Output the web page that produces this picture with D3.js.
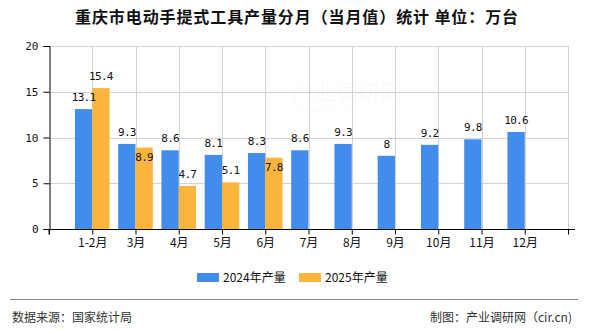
<!DOCTYPE html>
<html>
<head>
<meta charset="utf-8">
<script src="https://cdn.jsdelivr.net/npm/d3@7/dist/d3.min.js"></script>
<style>
  html, body { margin: 0; padding: 0; background: #fff; }
  svg { display: block; }
  text { font-family: "Noto Sans CJK SC", "Noto Sans", sans-serif; }
</style>
</head>
<body>
<svg id="chart" width="590" height="330"></svg>
<script>
const title = "重庆市电动手提式工具产量分月（当月值）统计 单位：万台";
const categories = ["1-2月", "3月", "4月", "5月", "6月", "7月", "8月", "9月", "10月", "11月", "12月"];
const series2024 = [13.1, 9.3, 8.6, 8.1, 8.3, 8.6, 9.3, 8, 9.2, 9.8, 10.6];
const series2025 = [15.4, 8.9, 4.7, 5.1, 7.8];
const seriesNames = ["2024年产量", "2025年产量"];
const colors = ["#428CEE", "#FBB43E"];
const yTicks = [0, 5, 10, 15, 20];
const sourceText = "数据来源：国家统计局";
const creditText = "制图：产业调研网（cir.cn)";

const svg = d3.select("#chart");
const plotL = 49, plotR = 568, plotT = 46, plotB = 229;

// point positions: an empty slot at each end, categories in between
const slots = ["__s"].concat(categories, ["__e"]);
const x = d3.scalePoint().domain(slots).range([plotL, plotR]).padding(0);
const step = x.step();
const barW = step * 0.4;
const y = d3.scaleLinear().domain([0, 20]).range([plotB, plotT]);

// title
svg.append("text")
  .attr("x", 297).attr("y", 23)
  .attr("text-anchor", "middle")
  .style("font-size", "16px").style("font-weight", "bold")
  .style("letter-spacing", "0.9px")
  .attr("fill", "#111")
  .text(title);

// watermark (very faint), kept clear of the data labels
svg.append("text").attr("x", 292).attr("y", 100)
  .style("font-size", "22px").attr("fill", "#c00").attr("opacity", 0.02)
  .text("产业调研网");
svg.append("text").attr("x", 300).attr("y", 113)
  .style("font-size", "9px").style("font-family", "DejaVu Sans Mono").attr("fill", "#c00").attr("opacity", 0.025)
  .text("www.cir.cn");

// horizontal grid
svg.append("g").selectAll("line").data(yTicks.filter(t => t > 0)).join("line")
  .attr("x1", plotL).attr("x2", plotR)
  .attr("y1", d => Math.round(y(d)) + 0.5).attr("y2", d => Math.round(y(d)) + 0.5)
  .attr("stroke", "#d3d3d3").attr("stroke-width", 1);
// vertical grid
svg.append("g").selectAll("line").data(slots.slice(1)).join("line")
  .attr("x1", d => Math.round(x(d)) + 0.5).attr("x2", d => Math.round(x(d)) + 0.5)
  .attr("y1", plotT).attr("y2", plotB)
  .attr("stroke", "#d3d3d3").attr("stroke-width", 1);

// bars 2024
svg.append("g").selectAll("rect").data(series2024).join("rect")
  .attr("x", (d, i) => x(categories[i]) - barW)
  .attr("width", barW)
  .attr("y", d => y(d))
  .attr("height", d => y(0) - y(d))
  .attr("fill", colors[0]);
// bars 2025
svg.append("g").selectAll("rect").data(series2025).join("rect")
  .attr("x", (d, i) => x(categories[i]))
  .attr("width", barW)
  .attr("y", d => y(d))
  .attr("height", d => y(0) - y(d))
  .attr("fill", colors[1]);

const labelStyle = sel => sel
  .attr("text-anchor", "middle")
  .style("font-family", "'DejaVu Sans Mono', monospace")
  .style("font-size", "11px")
  .style("letter-spacing", "-0.7px")
  .attr("fill", "#111");

// labels 2024
svg.append("g").selectAll("text").data(series2024).join("text")
  .attr("x", (d, i) => x(categories[i]) - barW / 2)
  .attr("y", d => y(d) - 8)
  .call(labelStyle)
  .text(d => d);
// labels 2025 (placed inside bar top when they would collide with the 2024 label)
svg.append("g").selectAll("text").data(series2025).join("text")
  .attr("x", (d, i) => x(categories[i]) + barW / 2)
  .attr("y", (d, i) => {
    const collide = Math.abs(y(d) - y(series2024[i])) < 13;
    return collide ? y(d) + 13 : y(d) - 8;
  })
  .call(labelStyle)
  .text(d => d);

// y axis
const yAxis = d3.axisLeft(y).tickValues(yTicks).tickSize(6).tickPadding(5);
const gy = svg.append("g").attr("transform", `translate(${plotL + 0.5},0)`).call(yAxis);
gy.select(".domain").attr("stroke", "#000");
gy.selectAll(".tick line").attr("stroke", "#000");
gy.selectAll(".tick text").style("font-family", "'DejaVu Sans Mono', monospace").style("font-size", "11px").attr("fill", "#111");

// x axis
const xAxis = d3.axisBottom(x).tickSize(5).tickPadding(4)
  .tickFormat(d => d.startsWith("__") ? "" : d);
const gx = svg.append("g").attr("transform", `translate(0,${plotB + 0.5})`).call(xAxis);
gx.select(".domain").attr("stroke", "#000").attr("d", `M${plotL},5V0H${plotR + 7}`);
gx.selectAll(".tick line").attr("stroke", "#000");
gx.selectAll(".tick text").style("font-size", "12px").attr("fill", "#111");

// legend
const legend = svg.append("g");
const legendX = [197, 299];
seriesNames.forEach((name, i) => {
  legend.append("rect").attr("x", legendX[i]).attr("y", 273).attr("width", 22).attr("height", 9).attr("fill", colors[i]);
  legend.append("text").attr("x", legendX[i] + 26).attr("y", 282)
    .style("font-size", "12px").attr("fill", "#111").text(name);
});

// footer
svg.append("line").attr("x1", 10).attr("x2", 578).attr("y1", 299.5).attr("y2", 299.5)
  .attr("stroke", "#888").attr("stroke-width", 1);
svg.append("text").attr("x", 12).attr("y", 322)
  .style("font-size", "12px").attr("fill", "#333").text(sourceText);
svg.append("text").attr("x", 572).attr("y", 322).attr("text-anchor", "end")
  .style("font-size", "12px").attr("fill", "#333").text(creditText);
</script>
</body>
</html>
